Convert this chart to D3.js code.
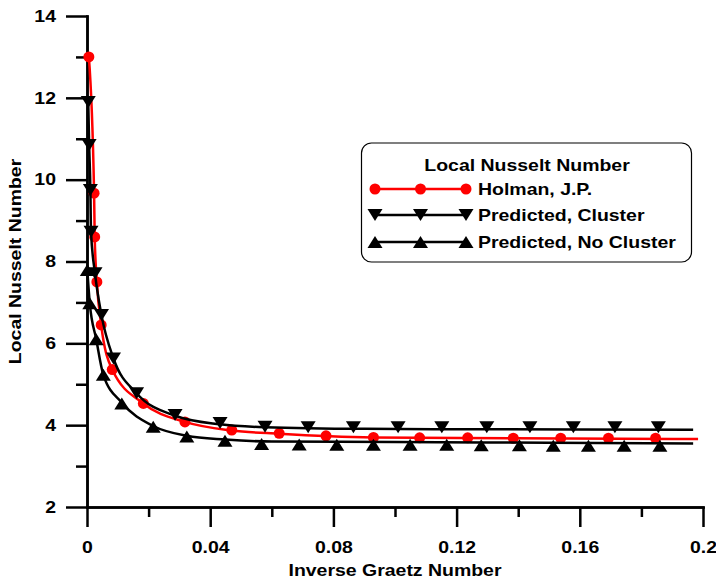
<!DOCTYPE html>
<html lang="en">
<head>
    <meta charset="utf-8"/>
    <title>Local Nusselt Number</title>
    <script src="https://d3js.org/d3.v7.min.js"></script>
    <style>
        body { margin: 0; background: #fff; }
        text { font-family: "Liberation Sans", Arial, sans-serif; font-weight: bold; font-size: 16.5px; }
    </style>
</head>
<body>
<div id="my_dataviz"></div>
<script>

// ---- data ----
var xTicks = [0, 0.04, 0.08, 0.12, 0.16, 0.2];
var xTickLabels = ["0", "0.04", "0.08", "0.12", "0.16", "0.2"];
var xMinor = [0.02, 0.06, 0.10, 0.14, 0.18];
var yTicks = [2, 4, 6, 8, 10, 12, 14];
var yMinor = [3, 5, 7, 9, 11, 13];

// Holman, J.P. (red circles)
var holmanX = [0.0006, 0.0023, 0.0025, 0.0032, 0.0046, 0.0082, 0.0183, 0.0318, 0.047, 0.0624,
               0.0776, 0.093, 0.108, 0.1236, 0.1384, 0.1538, 0.1693, 0.1846];
var holmanY = [13.0, 9.67, 8.6, 7.5, 6.45, 5.36, 4.53, 4.08, 3.88, 3.80,
               3.74, 3.70, 3.69, 3.69, 3.68, 3.68, 3.68, 3.68];
var holmanFitX = [0.0006, 0.0023, 0.0025, 0.0032, 0.0046, 0.0082, 0.0183, 0.0318, 0.047, 0.0624, 0.093, 0.1384, 0.1984];
var holmanFitY = [13.0, 9.67, 8.6, 7.5, 6.45, 5.36, 4.53, 4.08, 3.87, 3.79, 3.70, 3.68, 3.66];

// Predicted, Cluster (down triangles)
var clusterX = [0.0004, 0.0007, 0.0011, 0.0013, 0.0026, 0.0047, 0.0086, 0.0161, 0.0286, 0.0432,
                0.0578, 0.0718, 0.0865, 0.101, 0.1152, 0.1298, 0.1438, 0.1579, 0.1714, 0.1855];
var clusterY = [11.9, 10.85, 9.75, 8.73, 7.71, 6.69, 5.63, 4.78, 4.25, 4.05,
                3.96, 3.95, 3.95, 3.95, 3.95, 3.95, 3.95, 3.95, 3.95, 3.95];
var clusterFitX = [0.0004, 0.0007, 0.0011, 0.0013, 0.0026, 0.0047, 0.0086, 0.0161, 0.0286, 0.0432, 0.0578, 0.09, 0.13, 0.1968];
var clusterFitY = [11.9, 10.85, 9.75, 8.73, 7.71, 6.69, 5.63, 4.78, 4.23, 4.02, 3.95, 3.91, 3.90, 3.89];

// Predicted, No Cluster (up triangles)
var noClusterX = [0.0001, 0.0009, 0.003, 0.0053, 0.0113, 0.0215, 0.0324, 0.0448, 0.0567, 0.0689,
                  0.0811, 0.093, 0.1049, 0.1168, 0.128, 0.1404, 0.1514, 0.1628, 0.1744, 0.186];
var noClusterY = [7.79, 6.98, 6.1, 5.23, 4.53, 3.96, 3.72, 3.62, 3.54, 3.53,
                  3.52, 3.52, 3.52, 3.52, 3.51, 3.51, 3.50, 3.50, 3.50, 3.50];
var noClusterFitX = [0.0001, 0.0009, 0.003, 0.0053, 0.0113, 0.0215, 0.0324, 0.0448, 0.06, 0.1, 0.15, 0.1968];
var noClusterFitY = [7.79, 6.98, 6.1, 5.23, 4.55, 3.98, 3.74, 3.65, 3.60, 3.59, 3.57, 3.55];

var legendTitle = "Local Nusselt Number";
var seriesNames = ["Holman, J.P.", "Predicted, Cluster", "Predicted, No Cluster"];

// ---- svg ----
var W = 716, H = 584;
var SX = 1.18; // the original lettering is a bit wide
var svg = d3.select("#my_dataviz")
  .append("svg")
    .attr("width", W)
    .attr("height", H);

svg.append("rect").attr("width", W).attr("height", H).attr("fill", "#fff");

var x = d3.scaleLinear().domain([0, 0.2]).range([87, 703]);
var y = d3.scaleLinear().domain([2, 14]).range([507, 16]);

function zip(a, b) { return a.map(function(v, i) { return [v, b[i]]; }); }

// move x/y of a text into a transform so it can be widened
function widen(sel) {
  sel.each(function() {
    var t = d3.select(this);
    var tx = +t.attr("x") || 0, ty = +t.attr("y") || 0;
    t.attr("x", 0).attr("y", 0)
     .attr("transform", "translate(" + tx + "," + ty + ")scale(" + SX + ",1)");
  });
}

// axes (minor first, then major)
function styleAxis(g) {
  g.selectAll("path, line").attr("stroke", "#000").attr("stroke-width", 2.5);
  g.selectAll("text").attr("fill", "#000").attr("font-size", null).call(widen);
}

svg.append("g")
  .attr("transform", "translate(0," + y(2) + ")")
  .call(d3.axisBottom(x).tickValues(xMinor).tickSize(10).tickSizeOuter(0).tickFormat(""))
  .call(styleAxis);
svg.append("g")
  .attr("transform", "translate(0," + y(2) + ")")
  .call(d3.axisBottom(x).tickValues(xTicks).tickSize(20).tickSizeOuter(0).tickPadding(14)
    .tickFormat(function(d, i) { return xTickLabels[i]; }))
  .call(styleAxis);

svg.append("g")
  .attr("transform", "translate(" + x(0) + ",0)")
  .call(d3.axisLeft(y).tickValues(yMinor).tickSize(11).tickSizeOuter(0).tickFormat(""))
  .call(styleAxis);
svg.append("g")
  .attr("transform", "translate(" + x(0) + ",0)")
  .call(d3.axisLeft(y).tickValues(yTicks).tickSize(21).tickSizeOuter(0).tickPadding(10))
  .call(styleAxis);

svg.selectAll(".tick text").attr("font-family", null);
svg.selectAll(".domain").attr("stroke-linecap", "square");

// axis titles
svg.append("text")
  .attr("transform", "translate(" + (x(0) + x(0.2)) / 2 + ",576)scale(" + SX + ",1)")
  .attr("text-anchor", "middle")
  .text("Inverse Graetz Number");

svg.append("text")
  .attr("transform", "translate(21," + (y(2) + y(14)) / 2 + ")rotate(-90)scale(" + SX + ",1)")
  .attr("text-anchor", "middle")
  .text("Local Nusselt Number");

// markers
function triPath(dir, w, h) {
  // dir 1 = up, -1 = down; centred on bounding box
  var a = -dir * h / 2, b = dir * h / 2;
  return "M0," + a + "L" + (-w / 2) + "," + b + "L" + (w / 2) + "," + b + "Z";
}

var line = d3.line()
  .x(function(d) { return x(d[0]); })
  .y(function(d) { return y(d[1]); })
  .curve(d3.curveMonotoneX);

// Holman line + dots
svg.append("path")
  .datum(zip(holmanFitX, holmanFitY))
  .attr("fill", "none").attr("stroke", "#f00").attr("stroke-width", 2.5)
  .attr("d", line);
svg.selectAll(".holman")
  .data(zip(holmanX, holmanY))
  .enter().append("circle")
    .attr("cx", function(d) { return x(d[0]); })
    .attr("cy", function(d) { return y(d[1]); })
    .attr("r", 5.5)
    .attr("fill", "#f00");

// cluster line + down triangles
svg.append("path")
  .datum(zip(clusterFitX, clusterFitY))
  .attr("fill", "none").attr("stroke", "#000").attr("stroke-width", 2.5)
  .attr("d", line);
svg.selectAll(".cluster")
  .data(zip(clusterX, clusterY))
  .enter().append("path")
    .attr("transform", function(d) { return "translate(" + x(d[0]) + "," + y(d[1]) + ")"; })
    .attr("d", triPath(-1, 15, 12))
    .attr("fill", "#000");

// no cluster line + up triangles
svg.append("path")
  .datum(zip(noClusterFitX, noClusterFitY))
  .attr("fill", "none").attr("stroke", "#000").attr("stroke-width", 2.5)
  .attr("d", line);
svg.selectAll(".nocluster")
  .data(zip(noClusterX, noClusterY))
  .enter().append("path")
    .attr("transform", function(d) { return "translate(" + x(d[0]) + "," + y(d[1]) + ")"; })
    .attr("d", triPath(1, 15, 12))
    .attr("fill", "#000");

// legend
var lg = svg.append("g");
lg.append("rect")
  .attr("x", 361.5).attr("y", 143)
  .attr("width", 330).attr("height", 119)
  .attr("rx", 10)
  .attr("fill", "#fff").attr("stroke", "#000").attr("stroke-width", 1.2);
lg.append("text")
  .attr("transform", "translate(527,171)scale(" + SX + ",1)")
  .attr("text-anchor", "middle")
  .text(legendTitle);

var rowY = [189, 215, 242];
var colors = ["#f00", "#000", "#000"];
var markX = [375, 420.5, 466];
seriesNames.forEach(function(name, i) {
  lg.append("line")
    .attr("x1", markX[0]).attr("x2", markX[2])
    .attr("y1", rowY[i]).attr("y2", rowY[i])
    .attr("stroke", colors[i]).attr("stroke-width", 2.5);
  markX.forEach(function(mx) {
    if (i === 0) {
      lg.append("circle").attr("cx", mx).attr("cy", rowY[i]).attr("r", 5.5).attr("fill", "#f00");
    } else {
      lg.append("path")
        .attr("transform", "translate(" + mx + "," + rowY[i] + ")")
        .attr("d", triPath(i === 1 ? -1 : 1, 15, 12))
        .attr("fill", "#000");
    }
  });
  lg.append("text")
    .attr("transform", "translate(478," + (rowY[i] + 6) + ")scale(" + SX + ",1)")
    .text(name);
});

</script>
</body>
</html>
